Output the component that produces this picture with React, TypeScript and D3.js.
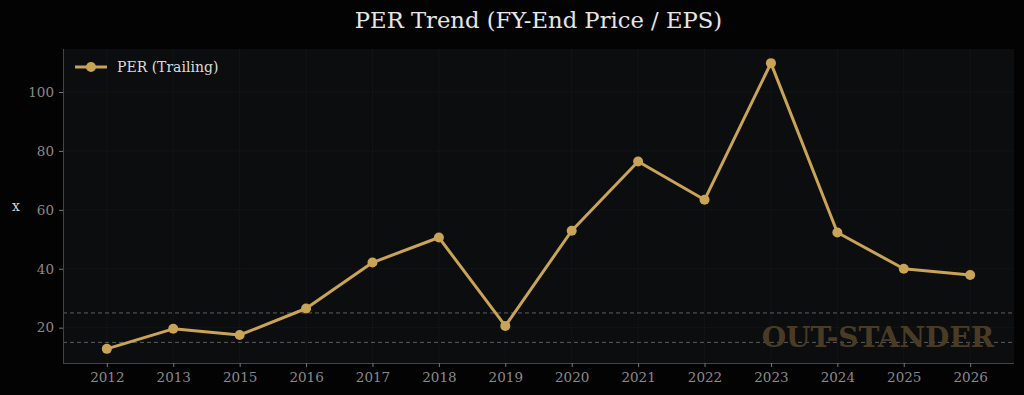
import { useEffect, useRef } from "react";
import * as d3 from "d3";

const years = ["2012", "2013", "2015", "2016", "2017", "2018", "2019", "2020", "2021", "2022", "2023", "2024", "2025", "2026"];
const perValues = [12.8, 19.6, 17.5, 26.5, 42.1, 50.6, 20.6, 52.9, 76.4, 63.4, 109.8, 52.3, 40.0, 37.9];
const yTicks = [20, 40, 60, 80, 100];
const bandLines = [15, 25];

const W = 1024;
const H = 395;
const FONT = "'DejaVu Serif', serif";
const GOLD = "#c9a456";

export default function App() {
  const svgRef = useRef<SVGSVGElement>(null);

  useEffect(() => {
    document.body.style.margin = "0";
    const svg = d3.select(svgRef.current);
    svg.selectAll("*").remove();

    const margin = { top: 49, right: 10, bottom: 32, left: 63 };
    const plotW = W - margin.left - margin.right;
    const plotH = H - margin.top - margin.bottom;

    svg.append("rect").attr("width", W).attr("height", H).attr("fill", "#030303");

    const x = d3.scalePoint<string>().domain(years).range([margin.left, W - margin.right]).padding(0.66);
    const y = d3.scaleLinear().domain([8, 114.6]).range([H - margin.bottom, margin.top]);

    svg
      .append("rect")
      .attr("x", margin.left)
      .attr("y", margin.top)
      .attr("width", plotW)
      .attr("height", plotH)
      .attr("fill", "#0c0d0f");

    // faint grid
    const grid = svg.append("g").attr("stroke", "#1b1c1f").attr("stroke-width", 0.8).attr("stroke-dasharray", "1,1");
    grid
      .selectAll(".vg")
      .data(years)
      .enter()
      .append("line")
      .attr("x1", (d) => x(d)!)
      .attr("x2", (d) => x(d)!)
      .attr("y1", margin.top)
      .attr("y2", H - margin.bottom);
    grid
      .selectAll(".hg")
      .data(yTicks)
      .enter()
      .append("line")
      .attr("x1", margin.left)
      .attr("x2", W - margin.right)
      .attr("y1", (d) => y(d))
      .attr("y2", (d) => y(d));

    // reference bands
    svg
      .selectAll(".band")
      .data(bandLines)
      .enter()
      .append("line")
      .attr("x1", margin.left)
      .attr("x2", W - margin.right)
      .attr("y1", (d) => y(d))
      .attr("y2", (d) => y(d))
      .attr("stroke", "#5e5e5e")
      .attr("stroke-width", 1)
      .attr("stroke-dasharray", "4,3");

    // watermark
    svg
      .append("text")
      .attr("x", 994)
      .attr("y", 347)
      .attr("text-anchor", "end")
      .attr("font-family", FONT)
      .attr("font-weight", "bold")
      .attr("font-size", 28)
      .attr("fill", "#4a3c24")
      .text("OUT-STANDER");

    // axes
    const xAxis = svg
      .append("g")
      .attr("transform", `translate(0,${H - margin.bottom})`)
      .call(d3.axisBottom(x).tickSize(4).tickPadding(5).tickSizeOuter(0));
    const yAxis = svg
      .append("g")
      .attr("transform", `translate(${margin.left},0)`)
      .call(d3.axisLeft(y).tickValues(yTicks).tickSize(4).tickPadding(5).tickSizeOuter(0));
    [xAxis, yAxis].forEach((g) => {
      g.select(".domain").attr("stroke", "#444");
      g.selectAll(".tick line").attr("stroke", "#777");
      g.selectAll(".tick text").attr("fill", "#8a8a8a").attr("font-family", FONT).attr("font-size", 13.5);
    });
    xAxis.select(".domain").attr("d", `M${margin.left},0.5H${W - margin.right}`);
    yAxis.select(".domain").attr("d", `M0.5,${margin.top}V${H - margin.bottom}`);

    svg
      .append("text")
      .attr("x", 16)
      .attr("y", 211)
      .attr("text-anchor", "middle")
      .attr("font-family", FONT)
      .attr("font-size", 14)
      .attr("fill", "#d8d8d8")
      .text("x");

    // line + markers
    const data = years.map((yr, i) => ({ yr, v: perValues[i] }));
    const line = d3
      .line<{ yr: string; v: number }>()
      .x((d) => x(d.yr)!)
      .y((d) => y(d.v));
    svg
      .append("path")
      .datum(data)
      .attr("fill", "none")
      .attr("stroke", GOLD)
      .attr("stroke-width", 3)
      .attr("stroke-linejoin", "round")
      .attr("d", line);
    svg
      .selectAll(".dot")
      .data(data)
      .enter()
      .append("circle")
      .attr("cx", (d) => x(d.yr)!)
      .attr("cy", (d) => y(d.v))
      .attr("r", 5)
      .attr("fill", GOLD);

    // legend
    const lg = svg.append("g");
    lg.append("line").attr("x1", 75).attr("x2", 107).attr("y1", 67).attr("y2", 67).attr("stroke", GOLD).attr("stroke-width", 3);
    lg.append("circle").attr("cx", 91).attr("cy", 67).attr("r", 5).attr("fill", GOLD);
    lg.append("text")
      .attr("x", 117)
      .attr("y", 72)
      .attr("font-family", FONT)
      .attr("font-size", 14)
      .attr("fill", "#dcdcdc")
      .text("PER (Trailing)");

    // title
    svg
      .append("text")
      .attr("x", (margin.left + W - margin.right) / 2)
      .attr("y", 28)
      .attr("text-anchor", "middle")
      .attr("font-family", FONT)
      .attr("font-size", 22.7)
      .attr("fill", "#e6e6e6")
      .text("PER Trend (FY-End Price / EPS)");
  }, []);

  return <svg ref={svgRef} width={W} height={H} style={{ display: "block" }} />;
}
